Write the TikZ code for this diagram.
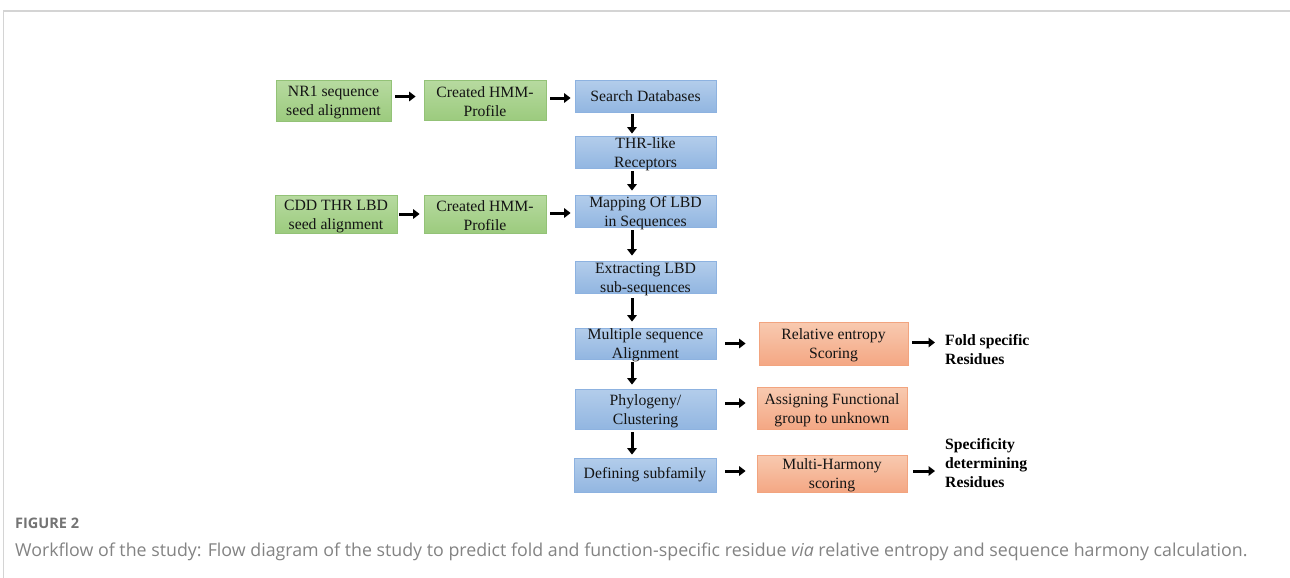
\documentclass[tikz,border=0pt]{standalone}
\usepackage{fontspec}
\setmainfont{Liberation Serif}
\newfontfamily\capfont{Open Sans}
\usetikzlibrary{arrows.meta}
\definecolor{gtop}{HTML}{B7DAA0}
\definecolor{gbot}{HTML}{9CCB7E}
\definecolor{gbrd}{HTML}{93C277}
\definecolor{btop}{HTML}{B3CDEB}
\definecolor{bbot}{HTML}{92B6E1}
\definecolor{bbrd}{HTML}{8DB2E0}
\definecolor{otop}{HTML}{F8CAB0}
\definecolor{obot}{HTML}{F4A784}
\definecolor{obrd}{HTML}{F2A47F}
\definecolor{framec}{HTML}{D4D4D4}
\definecolor{capc}{HTML}{838383}
\definecolor{figc}{HTML}{747474}
\begin{document}
\begin{tikzpicture}[x=1pt,y=-1pt,
  boxbase/.style={line width=0.8pt, inner sep=0pt},
  gbox/.style={boxbase, draw=gbrd, top color=gtop, bottom color=gbot},
  bbox/.style={boxbase, draw=bbrd, top color=btop, bottom color=bbot},
  obox/.style={boxbase, draw=obrd, top color=otop, bottom color=obot},
  txt/.style={font=\fontsize{15.7}{19}\selectfont, align=center, inner sep=0pt, text=black!92},
  txtt/.style={txt, yshift=-2pt},
  rtxt/.style={font=\fontsize{15.7}{19}\selectfont\bfseries, align=left, inner sep=0pt, anchor=west},
  arr/.style={line width=3pt, -{Triangle[width=9.5pt,length=6.5pt]}}]
\useasboundingbox (0,0) rectangle (1290,578);
\fill[white] (0,0) rectangle (1290,578);
\draw[framec, line width=1.5pt] (3.5,578) -- (3.5,11) -- (1290,11);

% boxes
\node[gbox, minimum width=115pt, minimum height=41pt] (G1) at (333.5,100.5) {};
\node[txtt] (G1t) at (G1) {NR1 sequence\\seed alignment};
\node[gbox, minimum width=122pt, minimum height=40pt] (G2) at (485,100) {};
\node[txtt] (G2t) at (G2) {Created HMM-\\Profile};
\node[bbox, minimum width=141pt, minimum height=32pt] (B1) at (645.5,96) {};
\node[txt] (B1t) at (B1) {Search Databases};
\node[bbox, minimum width=141pt, minimum height=32pt] (B2) at (645.5,152) {};
\node[txtt] (B2t) at (B2) {THR-like\\Receptors};
\node[gbox, minimum width=122pt, minimum height=38pt] (G3) at (336,214) {};
\node[txtt] (G3t) at (G3) {CDD THR LBD\\seed alignment};
\node[gbox, minimum width=122pt, minimum height=38pt] (G4) at (485,214) {};
\node[txtt] (G4t) at (G4) {Created HMM-\\Profile};
\node[bbox, minimum width=141pt, minimum height=32pt] (B3) at (645.5,211) {};
\node[txtt] (B3t) at (B3) {Mapping Of LBD\\in Sequences};
\node[bbox, minimum width=141pt, minimum height=32pt] (B4) at (645.5,277) {};
\node[txtt] (B4t) at (B4) {Extracting LBD\\sub-sequences};
\node[bbox, minimum width=141pt, minimum height=31pt] (B5) at (645.5,343.5) {};
\node[txtt] (B5t) at (B5) {Multiple sequence\\Alignment};
\node[bbox, minimum width=141pt, minimum height=40pt] (B6) at (645.5,409) {};
\node[txtt] (B6t) at (B6) {Phylogeny/\\Clustering};
\node[bbox, minimum width=142pt, minimum height=34pt] (B7) at (645,475) {};
\node[txt] (B7t) at (B7) {Defining subfamily};
\node[obox, minimum width=149pt, minimum height=43pt] (O1) at (833.5,343.5) {};
\node[txtt] (O1t) at (O1) {Relative entropy\\Scoring};
\node[obox, minimum width=150pt, minimum height=42pt] (O2) at (832,408) {};
\node[txtt] (O2t) at (O2) {Assigning Functional\\group to unknown};
\node[obox, minimum width=150pt, minimum height=37pt] (O3) at (832,473.5) {};
\node[txtt] (O3t) at (O3) {Multi-Harmony\\scoring};
\node[rtxt] (R1) at (945,350) {Fold specific\\Residues};
\node[rtxt] (R2) at (945,463) {Specificity\\determining\\Residues};

% horizontal arrows
\coordinate (a1) at ([yshift=4pt]G1.east);
\draw[arr, shorten <=4pt, shorten >=8pt] (a1) -- (a1 -| G2.west);
\coordinate (a2) at ([yshift=2pt]G2.east);
\draw[arr, shorten <=4pt, shorten >=4pt] (a2) -- (a2 -| B1.west);
\draw[arr, shorten <=2pt, shorten >=4pt] (G3.east) -- (G3.east -| G4.west);
\coordinate (a4) at ([yshift=1pt]G4.east);
\draw[arr, shorten <=4pt, shorten >=4pt] (a4) -- (a4 -| B3.west);
\draw[arr, shorten <=9pt, shorten >=13pt] (B5.east) -- (B5.east -| O1.west);
\coordinate (a6) at ([yshift=6pt]B6.east);
\draw[arr, shorten <=9pt, shorten >=11pt] (a6) -- (a6 -| O2.west);
\coordinate (a7) at ([yshift=4pt]B7.east);
\draw[arr, shorten <=9pt, shorten >=11pt] (a7) -- (a7 -| O3.west);
\coordinate (a8) at ([yshift=1pt]O1.east);
\draw[arr, shorten <=4pt, shorten >=10pt] (a8) -- (a8 -| R1.west);
\coordinate (a9) at ([yshift=2.5pt]O3.east);
\draw[arr, shorten <=6pt, shorten >=10pt] (a9) -- (a9 -| R2.west);

% vertical arrows
\draw[arr, shorten <=2pt, shorten >=2pt] ([xshift=-13.5pt]B1.south) -- ([xshift=-13.5pt]B2.north);
\draw[arr, shorten <=3pt, shorten >=4pt] ([xshift=-13.5pt]B2.south) -- ([xshift=-13.5pt]B3.north);
\draw[arr, shorten <=3pt, shorten >=5pt] ([xshift=-13.5pt]B3.south) -- ([xshift=-13.5pt]B4.north);
\draw[arr, shorten <=5pt, shorten >=6pt] ([xshift=-13.5pt]B4.south) -- ([xshift=-13.5pt]B5.north);
\draw[arr, shorten <=3pt, shorten >=4pt] ([xshift=-13.5pt]B5.south) -- ([xshift=-13.5pt]B6.north);
\draw[arr, shorten <=3pt, shorten >=3pt] ([xshift=-13.5pt]B6.south) -- ([xshift=-13pt]B7.north);

% caption
\node[anchor=base west, inner sep=0pt, text=figc, font=\capfont\fontsize{14.5}{17}\selectfont\bfseries] (F2) at (15,528) {FIGURE 2};
\node[anchor=base west, inner sep=0pt, text=capc, font=\capfont\fontsize{17.8}{21}\selectfont] (CAP) at (15,556) {Workflow of the study: Flow diagram of the study to predict fold and function-specific residue \textit{via} relative entropy and sequence harmony calculation.};
\end{tikzpicture}
\end{document}
